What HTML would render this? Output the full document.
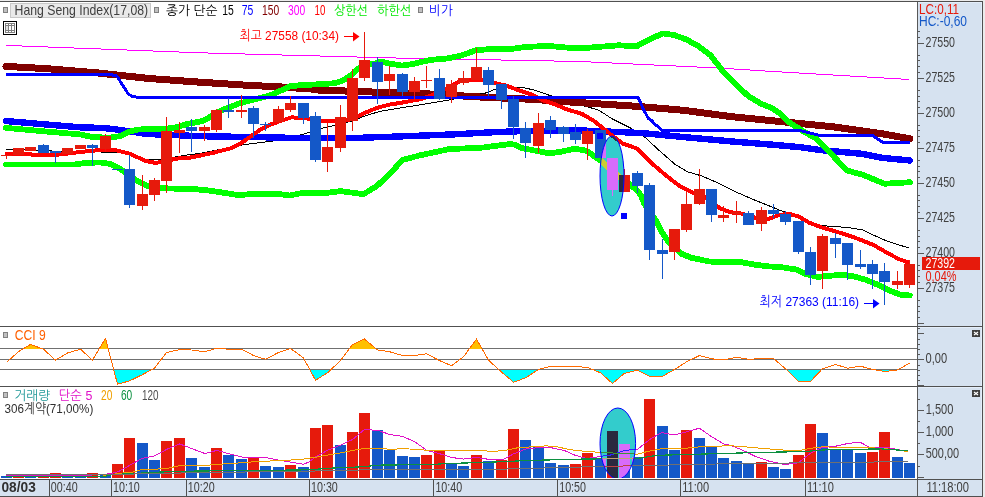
<!DOCTYPE html>
<html lang="ko"><head><meta charset="utf-8"><title>Hang Seng Index Chart</title>
<style>html,body{margin:0;padding:0;background:#fff;overflow:hidden}body{width:985px;height:497px}</style></head>
<body>
<svg width="985" height="497" viewBox="0 0 985 497" style="display:block;will-change:transform">
<defs>
<clipPath id="cm"><rect x="0" y="2" width="917" height="324"/></clipPath>
<clipPath id="cv"><rect x="0" y="387" width="917" height="91"/></clipPath>
<clipPath id="e1"><ellipse cx="612" cy="176" rx="12" ry="40"/></clipPath>
<clipPath id="e2"><ellipse cx="617.8" cy="443.5" rx="17.8" ry="35.5"/></clipPath>
</defs>
<rect width="985" height="497" fill="#fff"/>
<rect x="918" y="2" width="64" height="495" fill="#D6E2F0"/>
<rect x="0" y="480" width="982" height="16" fill="#D6E2F0"/>
<rect x="981" y="2" width="1" height="477" fill="#E4EEFA"/>
<rect x="918" y="2" width="64" height="1" fill="#E4EEFA"/>
<rect x="918" y="327" width="64" height="1" fill="#E4EEFA"/>
<rect x="918" y="387" width="64" height="1" fill="#E4EEFA"/>
<rect x="0" y="0" width="985" height="1" fill="#ececec"/>
<rect x="0" y="1" width="983" height="1" fill="#505050"/>
<rect x="982" y="1" width="1" height="496" fill="#505050"/>
<rect x="983" y="0" width="2" height="497" fill="#ececec"/>
<rect x="917" y="2" width="1" height="494" fill="#585858"/>
<rect x="0" y="326" width="982" height="1" fill="#505050"/>
<rect x="0" y="386" width="982" height="1" fill="#505050"/>
<rect x="0" y="479" width="982" height="1" fill="#505050"/>
<rect x="0" y="496" width="983" height="1" fill="#505050"/>
<g clip-path="url(#cm)">
<g shape-rendering="crispEdges">
<polyline points="6.0,149.3 30.0,149.6 60.0,151.5 100.0,152.0 125.0,152.3 145.0,159.3 160.0,159.5 175.0,157.0 190.0,154.5 200.0,153.5 220.0,149.5 242.8,144.8 274.3,140.9 301.7,134.6 309.8,132.2 322.0,128.2 334.2,125.5 352.0,121.0 365.0,116.0 380.0,111.3 420.6,104.7 449.0,100.0 485.6,93.0 495.7,89.0 512.0,86.9 522.1,87.5 534.3,90.0 548.5,95.0 585.2,106.2 598.4,110.0 612.6,119.1 631.0,128.3 645.1,137.4 659.3,150.6 675.6,164.8 687.8,171.9 702.0,176.0 718.2,183.1 736.5,192.2 752.7,199.3 770.8,206.5 783.0,211.5 800.0,217.3 815.0,224.8 829.6,226.3 845.9,227.3 862.0,229.7 874.3,235.5 886.5,240.9 898.7,244.8 908.8,248.0" fill="none" stroke="#000000" stroke-width="1" stroke-linejoin="round"/>
<polyline points="6.0,121.0 50.0,124.8 80.0,127.3 104.0,128.0 116.5,129.5 131.0,131.6 148.0,134.1 165.0,134.6 177.0,135.2 200.0,136.2 250.0,137.0 300.0,138.0 345.0,138.3 368.7,137.5 390.0,136.8 451.0,134.5 491.7,132.3 522.0,131.1 580.0,130.4 641.0,133.0 691.8,137.8 732.4,141.5 770.0,144.5 801.2,147.3 821.5,150.2 862.0,153.8 882.4,157.9 909.8,160.5" fill="none" stroke="#0000FF" stroke-width="6.4" stroke-linejoin="round" stroke-linecap="round"/>
<polyline points="6.0,66.4 48.7,68.8 97.5,72.9 150.0,78.6 198.7,82.1 247.5,85.3 280.0,86.9 310.0,88.9 318.7,90.1 348.0,91.1 367.5,91.9 400.0,92.7 430.0,94.0 485.0,97.3 533.7,99.4 570.0,102.0 635.0,106.2 683.7,110.3 730.0,116.5 785.0,122.0 833.7,126.9 880.0,133.4 909.8,138.8" fill="none" stroke="#800000" stroke-width="7" stroke-linejoin="round" stroke-linecap="round"/>
<polyline points="6.0,45.4 200.0,52.8 390.0,57.9 580.0,61.5 720.0,68.1 770.0,71.3 909.0,79.5" fill="none" stroke="#FF00FF" stroke-width="1" stroke-linejoin="round"/>
<polyline points="5.0,153.9 30.0,153.9 32.0,155.0 60.0,154.5 80.0,152.0 100.0,150.0 115.0,150.0 130.0,153.7 145.0,160.8 155.0,162.8 165.0,161.8 175.0,158.7 190.0,157.6 210.3,153.5 230.6,148.4 240.8,143.4 251.0,136.2 261.0,129.1 271.2,124.3 281.4,120.7 291.5,117.4 303.7,118.0 315.9,120.0 328.0,121.5 340.3,121.0 352.4,119.0 364.6,113.0 376.8,107.9 390.0,104.5 400.0,103.0 420.6,99.1 432.8,95.0 447.0,88.0 455.0,83.9 461.2,80.8 471.4,79.8 481.5,80.2 493.7,82.9 505.9,85.5 518.0,90.0 530.3,94.0 542.4,100.1 554.6,104.2 566.8,109.3 582.2,114.0 594.4,121.2 610.6,134.4 622.8,143.5 637.0,148.6 651.2,162.8 665.4,175.0 679.6,186.1 691.8,192.2 702.0,195.3 720.3,208.5 730.4,212.3 740.3,213.3 754.5,217.5 767.7,219.2 778.9,215.1 789.0,213.7 799.2,216.8 809.3,222.8 821.5,227.3 835.7,231.4 850.0,236.0 862.0,240.3 874.3,245.4 886.5,252.5 898.7,259.0 909.8,263.0" fill="none" stroke="#FF0000" stroke-width="4" stroke-linejoin="round"/>
<polyline points="6.0,127.9 40.0,131.0 80.0,134.4 93.0,137.2 110.0,137.6 120.0,136.2 128.7,131.9 138.5,129.5 153.0,128.9 165.0,128.9 177.4,127.0 187.0,124.0 200.0,121.6 205.0,120.0 215.0,114.0 225.0,108.9 240.0,103.2 255.0,99.3 270.0,95.4 280.0,91.0 289.5,86.4 300.0,85.2 320.0,84.2 335.0,83.2 343.0,80.6 348.0,77.3 352.0,74.5 358.0,69.0 363.0,65.2 375.0,63.6 380.0,61.5 390.0,63.6 402.3,65.6 412.5,64.0 430.8,59.9 447.0,58.5 461.2,55.5 475.4,50.4 485.6,49.4 512.0,48.8 526.2,46.9 548.5,45.9 562.7,47.3 580.0,48.4 618.7,45.3 637.0,46.3 640.0,44.1 652.0,38.1 663.1,33.5 674.2,35.1 686.3,39.5 698.4,46.1 710.4,55.2 717.5,64.2 724.5,73.3 736.6,85.4 748.7,96.4 760.7,103.5 772.8,108.5 780.0,113.5 787.0,120.9 801.2,130.0 815.4,138.2 829.6,152.2 846.9,170.5 862.0,174.5 884.5,183.7 898.7,183.0 909.8,182.2" fill="none" stroke="#00FF00" stroke-width="5.8" stroke-linejoin="round" stroke-linecap="round"/>
<polyline points="6.0,164.6 75.0,164.5 85.0,163.0 100.0,162.4 110.0,163.8 120.0,168.5 130.0,176.0 137.4,181.0 147.0,185.9 165.0,188.3 197.5,189.4 210.3,190.7 238.7,195.1 250.9,194.1 279.3,194.1 289.5,195.5 301.7,193.1 328.0,192.7 340.3,191.1 352.4,192.7 363.6,194.1 376.8,186.0 390.0,173.8 402.3,159.9 420.6,155.2 449.0,149.1 481.5,147.7 510.0,144.0 515.0,144.7 522.0,148.1 536.3,150.8 548.5,153.2 558.7,152.2 575.0,148.7 586.2,150.6 596.4,157.7 602.5,161.8 607.6,166.9 618.7,176.0 637.0,190.2 641.0,195.3 644.0,203.4 655.3,219.4 661.4,231.5 667.5,240.7 681.7,253.9 691.8,257.9 710.0,261.6 742.6,262.4 756.8,265.0 770.0,266.5 781.0,267.1 797.2,269.7 805.3,273.8 817.5,276.9 829.6,275.8 841.8,274.8 854.0,276.4 866.2,279.9 878.4,285.0 890.6,291.0 900.7,294.7 909.8,295.5" fill="none" stroke="#00FF00" stroke-width="5.8" stroke-linejoin="round" stroke-linecap="round"/>
<polyline points="6.0,74.4 109.6,74.4 116.8,76.0 128.0,93.5 132.0,96.5 140.0,97.5 638.0,97.5 643.0,108.2 648.2,118.4 651.2,120.2 655.3,124.5 662.4,130.4 800.0,130.5 820.5,135.7 873.0,135.7 883.5,142.8 909.8,142.8" fill="none" stroke="#0000FF" stroke-width="3" stroke-linejoin="round"/>
</g>
<g shape-rendering="crispEdges">
<rect x="6" y="155" width="1" height="4" fill="#E61A0C"/>
<rect x="1" y="155" width="11" height="1" fill="#E61A0C"/>
<rect x="18" y="148" width="1" height="7" fill="#E61A0C"/>
<rect x="13" y="148" width="11" height="7" fill="#E61A0C"/>
<rect x="30" y="147" width="1" height="4" fill="#E61A0C"/>
<rect x="25" y="147" width="11" height="4" fill="#E61A0C"/>
<rect x="43" y="144" width="1" height="9" fill="#1458C8"/>
<rect x="38" y="145" width="11" height="8" fill="#1458C8"/>
<rect x="55" y="151" width="1" height="12" fill="#1458C8"/>
<rect x="50" y="151" width="11" height="2" fill="#1458C8"/>
<rect x="67" y="148" width="1" height="6" fill="#E61A0C"/>
<rect x="62" y="148" width="11" height="6" fill="#E61A0C"/>
<rect x="80" y="145" width="1" height="4" fill="#E61A0C"/>
<rect x="75" y="145" width="11" height="4" fill="#E61A0C"/>
<rect x="92" y="144" width="1" height="22" fill="#1458C8"/>
<rect x="87" y="145" width="11" height="3" fill="#1458C8"/>
<rect x="105" y="134" width="1" height="18" fill="#E61A0C"/>
<rect x="100" y="136" width="11" height="13" fill="#E61A0C"/>
<rect x="117" y="169" width="1" height="1" fill="#1458C8"/>
<rect x="112" y="169" width="11" height="1" fill="#1458C8"/>
<rect x="129" y="155" width="1" height="53" fill="#1458C8"/>
<rect x="124" y="169" width="11" height="36" fill="#1458C8"/>
<rect x="142" y="175" width="1" height="35" fill="#E61A0C"/>
<rect x="137" y="194" width="11" height="12" fill="#E61A0C"/>
<rect x="154" y="178" width="1" height="23" fill="#E61A0C"/>
<rect x="149" y="180" width="11" height="15" fill="#E61A0C"/>
<rect x="166" y="117" width="1" height="76" fill="#E61A0C"/>
<rect x="161" y="131" width="11" height="50" fill="#E61A0C"/>
<rect x="179" y="122" width="1" height="31" fill="#E61A0C"/>
<rect x="174" y="130" width="11" height="3" fill="#E61A0C"/>
<rect x="191" y="119" width="1" height="33" fill="#1458C8"/>
<rect x="186" y="127" width="11" height="4" fill="#1458C8"/>
<rect x="204" y="125" width="1" height="16" fill="#E61A0C"/>
<rect x="199" y="127" width="11" height="4" fill="#E61A0C"/>
<rect x="216" y="109" width="1" height="23" fill="#E61A0C"/>
<rect x="211" y="110" width="11" height="20" fill="#E61A0C"/>
<rect x="228" y="98" width="1" height="20" fill="#1458C8"/>
<rect x="223" y="110" width="11" height="2" fill="#1458C8"/>
<rect x="241" y="95" width="1" height="23" fill="#E61A0C"/>
<rect x="236" y="110" width="11" height="2" fill="#E61A0C"/>
<rect x="253" y="106" width="1" height="32" fill="#1458C8"/>
<rect x="248" y="108" width="11" height="16" fill="#1458C8"/>
<rect x="265" y="122" width="1" height="9" fill="#1458C8"/>
<rect x="260" y="124" width="11" height="1" fill="#1458C8"/>
<rect x="278" y="106" width="1" height="18" fill="#E61A0C"/>
<rect x="273" y="109" width="11" height="13" fill="#E61A0C"/>
<rect x="290" y="96" width="1" height="16" fill="#E61A0C"/>
<rect x="285" y="103" width="11" height="7" fill="#E61A0C"/>
<rect x="303" y="103" width="1" height="21" fill="#1458C8"/>
<rect x="298" y="103" width="11" height="15" fill="#1458C8"/>
<rect x="315" y="112" width="1" height="50" fill="#1458C8"/>
<rect x="310" y="116" width="11" height="44" fill="#1458C8"/>
<rect x="327" y="123" width="1" height="49" fill="#E61A0C"/>
<rect x="322" y="147" width="11" height="15" fill="#E61A0C"/>
<rect x="340" y="105" width="1" height="47" fill="#E61A0C"/>
<rect x="335" y="117" width="11" height="31" fill="#E61A0C"/>
<rect x="352" y="69" width="1" height="62" fill="#E61A0C"/>
<rect x="347" y="78" width="11" height="43" fill="#E61A0C"/>
<rect x="364" y="32" width="1" height="49" fill="#E61A0C"/>
<rect x="359" y="60" width="11" height="18" fill="#E61A0C"/>
<rect x="377" y="57" width="1" height="47" fill="#1458C8"/>
<rect x="372" y="62" width="11" height="20" fill="#1458C8"/>
<rect x="389" y="66" width="1" height="29" fill="#E61A0C"/>
<rect x="384" y="74" width="11" height="7" fill="#E61A0C"/>
<rect x="402" y="73" width="1" height="23" fill="#1458C8"/>
<rect x="397" y="74" width="11" height="18" fill="#1458C8"/>
<rect x="414" y="77" width="1" height="23" fill="#E61A0C"/>
<rect x="409" y="81" width="11" height="11" fill="#E61A0C"/>
<rect x="426" y="66" width="1" height="22" fill="#E61A0C"/>
<rect x="421" y="80" width="11" height="1" fill="#E61A0C"/>
<rect x="439" y="69" width="1" height="31" fill="#1458C8"/>
<rect x="434" y="78" width="11" height="21" fill="#1458C8"/>
<rect x="451" y="80" width="1" height="23" fill="#E61A0C"/>
<rect x="446" y="84" width="11" height="13" fill="#E61A0C"/>
<rect x="463" y="71" width="1" height="14" fill="#E61A0C"/>
<rect x="458" y="78" width="11" height="5" fill="#E61A0C"/>
<rect x="476" y="48" width="1" height="32" fill="#E61A0C"/>
<rect x="471" y="67" width="11" height="13" fill="#E61A0C"/>
<rect x="488" y="67" width="1" height="29" fill="#1458C8"/>
<rect x="483" y="70" width="11" height="15" fill="#1458C8"/>
<rect x="501" y="84" width="1" height="25" fill="#1458C8"/>
<rect x="496" y="84" width="11" height="16" fill="#1458C8"/>
<rect x="513" y="96" width="1" height="43" fill="#1458C8"/>
<rect x="508" y="99" width="11" height="28" fill="#1458C8"/>
<rect x="525" y="122" width="1" height="36" fill="#1458C8"/>
<rect x="520" y="128" width="11" height="15" fill="#1458C8"/>
<rect x="538" y="113" width="1" height="40" fill="#E61A0C"/>
<rect x="533" y="123" width="11" height="23" fill="#E61A0C"/>
<rect x="550" y="116" width="1" height="22" fill="#1458C8"/>
<rect x="545" y="120" width="11" height="10" fill="#1458C8"/>
<rect x="563" y="126" width="1" height="16" fill="#1458C8"/>
<rect x="558" y="127" width="11" height="7" fill="#1458C8"/>
<rect x="575" y="124" width="1" height="20" fill="#1458C8"/>
<rect x="570" y="132" width="11" height="8" fill="#1458C8"/>
<rect x="587" y="129" width="1" height="31" fill="#E61A0C"/>
<rect x="582" y="131" width="11" height="13" fill="#E61A0C"/>
<rect x="600" y="130" width="1" height="28" fill="#1458C8"/>
<rect x="595" y="130" width="11" height="28" fill="#1458C8"/>
<rect x="612" y="158" width="1" height="38" fill="#1458C8"/>
<rect x="607" y="158" width="11" height="32" fill="#1458C8"/>
<rect x="624" y="169" width="1" height="23" fill="#E61A0C"/>
<rect x="619" y="175" width="11" height="17" fill="#E61A0C"/>
<rect x="637" y="171" width="1" height="22" fill="#1458C8"/>
<rect x="632" y="173" width="11" height="13" fill="#1458C8"/>
<rect x="649" y="183" width="1" height="77" fill="#1458C8"/>
<rect x="644" y="185" width="11" height="65" fill="#1458C8"/>
<rect x="662" y="239" width="1" height="40" fill="#1458C8"/>
<rect x="657" y="250" width="11" height="4" fill="#1458C8"/>
<rect x="674" y="229" width="1" height="31" fill="#E61A0C"/>
<rect x="669" y="229" width="11" height="23" fill="#E61A0C"/>
<rect x="686" y="192" width="1" height="40" fill="#E61A0C"/>
<rect x="681" y="204" width="11" height="26" fill="#E61A0C"/>
<rect x="699" y="169" width="1" height="36" fill="#E61A0C"/>
<rect x="694" y="189" width="11" height="15" fill="#E61A0C"/>
<rect x="711" y="189" width="1" height="33" fill="#1458C8"/>
<rect x="706" y="189" width="11" height="26" fill="#1458C8"/>
<rect x="723" y="206" width="1" height="16" fill="#E61A0C"/>
<rect x="718" y="215" width="11" height="3" fill="#E61A0C"/>
<rect x="736" y="201" width="1" height="22" fill="#E61A0C"/>
<rect x="731" y="212" width="11" height="2" fill="#E61A0C"/>
<rect x="748" y="211" width="1" height="14" fill="#1458C8"/>
<rect x="743" y="213" width="11" height="12" fill="#1458C8"/>
<rect x="761" y="207" width="1" height="24" fill="#E61A0C"/>
<rect x="756" y="210" width="11" height="14" fill="#E61A0C"/>
<rect x="773" y="204" width="1" height="14" fill="#1458C8"/>
<rect x="768" y="210" width="11" height="4" fill="#1458C8"/>
<rect x="785" y="211" width="1" height="14" fill="#1458C8"/>
<rect x="780" y="214" width="11" height="8" fill="#1458C8"/>
<rect x="798" y="221" width="1" height="33" fill="#1458C8"/>
<rect x="793" y="221" width="11" height="31" fill="#1458C8"/>
<rect x="810" y="247" width="1" height="38" fill="#1458C8"/>
<rect x="805" y="252" width="11" height="23" fill="#1458C8"/>
<rect x="822" y="234" width="1" height="55" fill="#E61A0C"/>
<rect x="817" y="236" width="11" height="35" fill="#E61A0C"/>
<rect x="835" y="233" width="1" height="25" fill="#1458C8"/>
<rect x="830" y="238" width="11" height="6" fill="#1458C8"/>
<rect x="847" y="243" width="1" height="37" fill="#1458C8"/>
<rect x="842" y="243" width="11" height="22" fill="#1458C8"/>
<rect x="860" y="250" width="1" height="19" fill="#1458C8"/>
<rect x="855" y="264" width="11" height="3" fill="#1458C8"/>
<rect x="872" y="260" width="1" height="29" fill="#1458C8"/>
<rect x="867" y="264" width="11" height="10" fill="#1458C8"/>
<rect x="884" y="263" width="1" height="42" fill="#1458C8"/>
<rect x="879" y="271" width="11" height="11" fill="#1458C8"/>
<rect x="897" y="271" width="1" height="18" fill="#E61A0C"/>
<rect x="892" y="281" width="11" height="4" fill="#E61A0C"/>
<rect x="909" y="260" width="1" height="28" fill="#E61A0C"/>
<rect x="904" y="264" width="11" height="21" fill="#E61A0C"/>
</g>
<ellipse cx="612" cy="176" rx="12" ry="40" fill="#33CCCC"/>
<g clip-path="url(#e1)">
<g shape-rendering="crispEdges">
<polyline points="6.0,149.3 30.0,149.6 60.0,151.5 100.0,152.0 125.0,152.3 145.0,159.3 160.0,159.5 175.0,157.0 190.0,154.5 200.0,153.5 220.0,149.5 242.8,144.8 274.3,140.9 301.7,134.6 309.8,132.2 322.0,128.2 334.2,125.5 352.0,121.0 365.0,116.0 380.0,111.3 420.6,104.7 449.0,100.0 485.6,93.0 495.7,89.0 512.0,86.9 522.1,87.5 534.3,90.0 548.5,95.0 585.2,106.2 598.4,110.0 612.6,119.1 631.0,128.3 645.1,137.4 659.3,150.6 675.6,164.8 687.8,171.9 702.0,176.0 718.2,183.1 736.5,192.2 752.7,199.3 770.8,206.5 783.0,211.5 800.0,217.3 815.0,224.8 829.6,226.3 845.9,227.3 862.0,229.7 874.3,235.5 886.5,240.9 898.7,244.8 908.8,248.0" fill="none" stroke="#CC3333" stroke-width="1" stroke-linejoin="round"/>
<polyline points="6.0,121.0 50.0,124.8 80.0,127.3 104.0,128.0 116.5,129.5 131.0,131.6 148.0,134.1 165.0,134.6 177.0,135.2 200.0,136.2 250.0,137.0 300.0,138.0 345.0,138.3 368.7,137.5 390.0,136.8 451.0,134.5 491.7,132.3 522.0,131.1 580.0,130.4 641.0,133.0 691.8,137.8 732.4,141.5 770.0,144.5 801.2,147.3 821.5,150.2 862.0,153.8 882.4,157.9 909.8,160.5" fill="none" stroke="#CC33CC" stroke-width="6.4" stroke-linejoin="round" stroke-linecap="round"/>
<polyline points="6.0,66.4 48.7,68.8 97.5,72.9 150.0,78.6 198.7,82.1 247.5,85.3 280.0,86.9 310.0,88.9 318.7,90.1 348.0,91.1 367.5,91.9 400.0,92.7 430.0,94.0 485.0,97.3 533.7,99.4 570.0,102.0 635.0,106.2 683.7,110.3 730.0,116.5 785.0,122.0 833.7,126.9 880.0,133.4 909.8,138.8" fill="none" stroke="#4C3333" stroke-width="7" stroke-linejoin="round" stroke-linecap="round"/>
<polyline points="6.0,45.4 200.0,52.8 390.0,57.9 580.0,61.5 720.0,68.1 770.0,71.3 909.0,79.5" fill="none" stroke="#3333CC" stroke-width="1" stroke-linejoin="round"/>
<polyline points="5.0,153.9 30.0,153.9 32.0,155.0 60.0,154.5 80.0,152.0 100.0,150.0 115.0,150.0 130.0,153.7 145.0,160.8 155.0,162.8 165.0,161.8 175.0,158.7 190.0,157.6 210.3,153.5 230.6,148.4 240.8,143.4 251.0,136.2 261.0,129.1 271.2,124.3 281.4,120.7 291.5,117.4 303.7,118.0 315.9,120.0 328.0,121.5 340.3,121.0 352.4,119.0 364.6,113.0 376.8,107.9 390.0,104.5 400.0,103.0 420.6,99.1 432.8,95.0 447.0,88.0 455.0,83.9 461.2,80.8 471.4,79.8 481.5,80.2 493.7,82.9 505.9,85.5 518.0,90.0 530.3,94.0 542.4,100.1 554.6,104.2 566.8,109.3 582.2,114.0 594.4,121.2 610.6,134.4 622.8,143.5 637.0,148.6 651.2,162.8 665.4,175.0 679.6,186.1 691.8,192.2 702.0,195.3 720.3,208.5 730.4,212.3 740.3,213.3 754.5,217.5 767.7,219.2 778.9,215.1 789.0,213.7 799.2,216.8 809.3,222.8 821.5,227.3 835.7,231.4 850.0,236.0 862.0,240.3 874.3,245.4 886.5,252.5 898.7,259.0 909.8,263.0" fill="none" stroke="#333333" stroke-width="4" stroke-linejoin="round"/>
<polyline points="6.0,127.9 40.0,131.0 80.0,134.4 93.0,137.2 110.0,137.6 120.0,136.2 128.7,131.9 138.5,129.5 153.0,128.9 165.0,128.9 177.4,127.0 187.0,124.0 200.0,121.6 205.0,120.0 215.0,114.0 225.0,108.9 240.0,103.2 255.0,99.3 270.0,95.4 280.0,91.0 289.5,86.4 300.0,85.2 320.0,84.2 335.0,83.2 343.0,80.6 348.0,77.3 352.0,74.5 358.0,69.0 363.0,65.2 375.0,63.6 380.0,61.5 390.0,63.6 402.3,65.6 412.5,64.0 430.8,59.9 447.0,58.5 461.2,55.5 475.4,50.4 485.6,49.4 512.0,48.8 526.2,46.9 548.5,45.9 562.7,47.3 580.0,48.4 618.7,45.3 637.0,46.3 640.0,44.1 652.0,38.1 663.1,33.5 674.2,35.1 686.3,39.5 698.4,46.1 710.4,55.2 717.5,64.2 724.5,73.3 736.6,85.4 748.7,96.4 760.7,103.5 772.8,108.5 780.0,113.5 787.0,120.9 801.2,130.0 815.4,138.2 829.6,152.2 846.9,170.5 862.0,174.5 884.5,183.7 898.7,183.0 909.8,182.2" fill="none" stroke="#CCCC33" stroke-width="5.8" stroke-linejoin="round" stroke-linecap="round"/>
<polyline points="6.0,164.6 75.0,164.5 85.0,163.0 100.0,162.4 110.0,163.8 120.0,168.5 130.0,176.0 137.4,181.0 147.0,185.9 165.0,188.3 197.5,189.4 210.3,190.7 238.7,195.1 250.9,194.1 279.3,194.1 289.5,195.5 301.7,193.1 328.0,192.7 340.3,191.1 352.4,192.7 363.6,194.1 376.8,186.0 390.0,173.8 402.3,159.9 420.6,155.2 449.0,149.1 481.5,147.7 510.0,144.0 515.0,144.7 522.0,148.1 536.3,150.8 548.5,153.2 558.7,152.2 575.0,148.7 586.2,150.6 596.4,157.7 602.5,161.8 607.6,166.9 618.7,176.0 637.0,190.2 641.0,195.3 644.0,203.4 655.3,219.4 661.4,231.5 667.5,240.7 681.7,253.9 691.8,257.9 710.0,261.6 742.6,262.4 756.8,265.0 770.0,266.5 781.0,267.1 797.2,269.7 805.3,273.8 817.5,276.9 829.6,275.8 841.8,274.8 854.0,276.4 866.2,279.9 878.4,285.0 890.6,291.0 900.7,294.7 909.8,295.5" fill="none" stroke="#CCCC33" stroke-width="5.8" stroke-linejoin="round" stroke-linecap="round"/>
<polyline points="6.0,74.4 109.6,74.4 116.8,76.0 128.0,93.5 132.0,96.5 140.0,97.5 638.0,97.5 643.0,108.2 648.2,118.4 651.2,120.2 655.3,124.5 662.4,130.4 800.0,130.5 820.5,135.7 873.0,135.7 883.5,142.8 909.8,142.8" fill="none" stroke="#CC33CC" stroke-width="3" stroke-linejoin="round"/>
</g>
<g shape-rendering="crispEdges">
<rect x="6" y="155" width="1" height="4" fill="#2A293F"/>
<rect x="1" y="155" width="11" height="1" fill="#2A293F"/>
<rect x="18" y="148" width="1" height="7" fill="#2A293F"/>
<rect x="13" y="148" width="11" height="7" fill="#2A293F"/>
<rect x="30" y="147" width="1" height="4" fill="#2A293F"/>
<rect x="25" y="147" width="11" height="4" fill="#2A293F"/>
<rect x="43" y="144" width="1" height="9" fill="#D86BFB"/>
<rect x="38" y="145" width="11" height="8" fill="#D86BFB"/>
<rect x="55" y="151" width="1" height="12" fill="#D86BFB"/>
<rect x="50" y="151" width="11" height="2" fill="#D86BFB"/>
<rect x="67" y="148" width="1" height="6" fill="#2A293F"/>
<rect x="62" y="148" width="11" height="6" fill="#2A293F"/>
<rect x="80" y="145" width="1" height="4" fill="#2A293F"/>
<rect x="75" y="145" width="11" height="4" fill="#2A293F"/>
<rect x="92" y="144" width="1" height="22" fill="#D86BFB"/>
<rect x="87" y="145" width="11" height="3" fill="#D86BFB"/>
<rect x="105" y="134" width="1" height="18" fill="#2A293F"/>
<rect x="100" y="136" width="11" height="13" fill="#2A293F"/>
<rect x="117" y="169" width="1" height="1" fill="#D86BFB"/>
<rect x="112" y="169" width="11" height="1" fill="#D86BFB"/>
<rect x="129" y="155" width="1" height="53" fill="#D86BFB"/>
<rect x="124" y="169" width="11" height="36" fill="#D86BFB"/>
<rect x="142" y="175" width="1" height="35" fill="#2A293F"/>
<rect x="137" y="194" width="11" height="12" fill="#2A293F"/>
<rect x="154" y="178" width="1" height="23" fill="#2A293F"/>
<rect x="149" y="180" width="11" height="15" fill="#2A293F"/>
<rect x="166" y="117" width="1" height="76" fill="#2A293F"/>
<rect x="161" y="131" width="11" height="50" fill="#2A293F"/>
<rect x="179" y="122" width="1" height="31" fill="#2A293F"/>
<rect x="174" y="130" width="11" height="3" fill="#2A293F"/>
<rect x="191" y="119" width="1" height="33" fill="#D86BFB"/>
<rect x="186" y="127" width="11" height="4" fill="#D86BFB"/>
<rect x="204" y="125" width="1" height="16" fill="#2A293F"/>
<rect x="199" y="127" width="11" height="4" fill="#2A293F"/>
<rect x="216" y="109" width="1" height="23" fill="#2A293F"/>
<rect x="211" y="110" width="11" height="20" fill="#2A293F"/>
<rect x="228" y="98" width="1" height="20" fill="#D86BFB"/>
<rect x="223" y="110" width="11" height="2" fill="#D86BFB"/>
<rect x="241" y="95" width="1" height="23" fill="#2A293F"/>
<rect x="236" y="110" width="11" height="2" fill="#2A293F"/>
<rect x="253" y="106" width="1" height="32" fill="#D86BFB"/>
<rect x="248" y="108" width="11" height="16" fill="#D86BFB"/>
<rect x="265" y="122" width="1" height="9" fill="#D86BFB"/>
<rect x="260" y="124" width="11" height="1" fill="#D86BFB"/>
<rect x="278" y="106" width="1" height="18" fill="#2A293F"/>
<rect x="273" y="109" width="11" height="13" fill="#2A293F"/>
<rect x="290" y="96" width="1" height="16" fill="#2A293F"/>
<rect x="285" y="103" width="11" height="7" fill="#2A293F"/>
<rect x="303" y="103" width="1" height="21" fill="#D86BFB"/>
<rect x="298" y="103" width="11" height="15" fill="#D86BFB"/>
<rect x="315" y="112" width="1" height="50" fill="#D86BFB"/>
<rect x="310" y="116" width="11" height="44" fill="#D86BFB"/>
<rect x="327" y="123" width="1" height="49" fill="#2A293F"/>
<rect x="322" y="147" width="11" height="15" fill="#2A293F"/>
<rect x="340" y="105" width="1" height="47" fill="#2A293F"/>
<rect x="335" y="117" width="11" height="31" fill="#2A293F"/>
<rect x="352" y="69" width="1" height="62" fill="#2A293F"/>
<rect x="347" y="78" width="11" height="43" fill="#2A293F"/>
<rect x="364" y="32" width="1" height="49" fill="#2A293F"/>
<rect x="359" y="60" width="11" height="18" fill="#2A293F"/>
<rect x="377" y="57" width="1" height="47" fill="#D86BFB"/>
<rect x="372" y="62" width="11" height="20" fill="#D86BFB"/>
<rect x="389" y="66" width="1" height="29" fill="#2A293F"/>
<rect x="384" y="74" width="11" height="7" fill="#2A293F"/>
<rect x="402" y="73" width="1" height="23" fill="#D86BFB"/>
<rect x="397" y="74" width="11" height="18" fill="#D86BFB"/>
<rect x="414" y="77" width="1" height="23" fill="#2A293F"/>
<rect x="409" y="81" width="11" height="11" fill="#2A293F"/>
<rect x="426" y="66" width="1" height="22" fill="#2A293F"/>
<rect x="421" y="80" width="11" height="1" fill="#2A293F"/>
<rect x="439" y="69" width="1" height="31" fill="#D86BFB"/>
<rect x="434" y="78" width="11" height="21" fill="#D86BFB"/>
<rect x="451" y="80" width="1" height="23" fill="#2A293F"/>
<rect x="446" y="84" width="11" height="13" fill="#2A293F"/>
<rect x="463" y="71" width="1" height="14" fill="#2A293F"/>
<rect x="458" y="78" width="11" height="5" fill="#2A293F"/>
<rect x="476" y="48" width="1" height="32" fill="#2A293F"/>
<rect x="471" y="67" width="11" height="13" fill="#2A293F"/>
<rect x="488" y="67" width="1" height="29" fill="#D86BFB"/>
<rect x="483" y="70" width="11" height="15" fill="#D86BFB"/>
<rect x="501" y="84" width="1" height="25" fill="#D86BFB"/>
<rect x="496" y="84" width="11" height="16" fill="#D86BFB"/>
<rect x="513" y="96" width="1" height="43" fill="#D86BFB"/>
<rect x="508" y="99" width="11" height="28" fill="#D86BFB"/>
<rect x="525" y="122" width="1" height="36" fill="#D86BFB"/>
<rect x="520" y="128" width="11" height="15" fill="#D86BFB"/>
<rect x="538" y="113" width="1" height="40" fill="#2A293F"/>
<rect x="533" y="123" width="11" height="23" fill="#2A293F"/>
<rect x="550" y="116" width="1" height="22" fill="#D86BFB"/>
<rect x="545" y="120" width="11" height="10" fill="#D86BFB"/>
<rect x="563" y="126" width="1" height="16" fill="#D86BFB"/>
<rect x="558" y="127" width="11" height="7" fill="#D86BFB"/>
<rect x="575" y="124" width="1" height="20" fill="#D86BFB"/>
<rect x="570" y="132" width="11" height="8" fill="#D86BFB"/>
<rect x="587" y="129" width="1" height="31" fill="#2A293F"/>
<rect x="582" y="131" width="11" height="13" fill="#2A293F"/>
<rect x="600" y="130" width="1" height="28" fill="#D86BFB"/>
<rect x="595" y="130" width="11" height="28" fill="#D86BFB"/>
<rect x="612" y="158" width="1" height="38" fill="#D86BFB"/>
<rect x="607" y="158" width="11" height="32" fill="#D86BFB"/>
<rect x="624" y="169" width="1" height="23" fill="#2A293F"/>
<rect x="619" y="175" width="11" height="17" fill="#2A293F"/>
<rect x="637" y="171" width="1" height="22" fill="#D86BFB"/>
<rect x="632" y="173" width="11" height="13" fill="#D86BFB"/>
<rect x="649" y="183" width="1" height="77" fill="#D86BFB"/>
<rect x="644" y="185" width="11" height="65" fill="#D86BFB"/>
<rect x="662" y="239" width="1" height="40" fill="#D86BFB"/>
<rect x="657" y="250" width="11" height="4" fill="#D86BFB"/>
<rect x="674" y="229" width="1" height="31" fill="#2A293F"/>
<rect x="669" y="229" width="11" height="23" fill="#2A293F"/>
<rect x="686" y="192" width="1" height="40" fill="#2A293F"/>
<rect x="681" y="204" width="11" height="26" fill="#2A293F"/>
<rect x="699" y="169" width="1" height="36" fill="#2A293F"/>
<rect x="694" y="189" width="11" height="15" fill="#2A293F"/>
<rect x="711" y="189" width="1" height="33" fill="#D86BFB"/>
<rect x="706" y="189" width="11" height="26" fill="#D86BFB"/>
<rect x="723" y="206" width="1" height="16" fill="#2A293F"/>
<rect x="718" y="215" width="11" height="3" fill="#2A293F"/>
<rect x="736" y="201" width="1" height="22" fill="#2A293F"/>
<rect x="731" y="212" width="11" height="2" fill="#2A293F"/>
<rect x="748" y="211" width="1" height="14" fill="#D86BFB"/>
<rect x="743" y="213" width="11" height="12" fill="#D86BFB"/>
<rect x="761" y="207" width="1" height="24" fill="#2A293F"/>
<rect x="756" y="210" width="11" height="14" fill="#2A293F"/>
<rect x="773" y="204" width="1" height="14" fill="#D86BFB"/>
<rect x="768" y="210" width="11" height="4" fill="#D86BFB"/>
<rect x="785" y="211" width="1" height="14" fill="#D86BFB"/>
<rect x="780" y="214" width="11" height="8" fill="#D86BFB"/>
<rect x="798" y="221" width="1" height="33" fill="#D86BFB"/>
<rect x="793" y="221" width="11" height="31" fill="#D86BFB"/>
<rect x="810" y="247" width="1" height="38" fill="#D86BFB"/>
<rect x="805" y="252" width="11" height="23" fill="#D86BFB"/>
<rect x="822" y="234" width="1" height="55" fill="#2A293F"/>
<rect x="817" y="236" width="11" height="35" fill="#2A293F"/>
<rect x="835" y="233" width="1" height="25" fill="#D86BFB"/>
<rect x="830" y="238" width="11" height="6" fill="#D86BFB"/>
<rect x="847" y="243" width="1" height="37" fill="#D86BFB"/>
<rect x="842" y="243" width="11" height="22" fill="#D86BFB"/>
<rect x="860" y="250" width="1" height="19" fill="#D86BFB"/>
<rect x="855" y="264" width="11" height="3" fill="#D86BFB"/>
<rect x="872" y="260" width="1" height="29" fill="#D86BFB"/>
<rect x="867" y="264" width="11" height="10" fill="#D86BFB"/>
<rect x="884" y="263" width="1" height="42" fill="#D86BFB"/>
<rect x="879" y="271" width="11" height="11" fill="#D86BFB"/>
<rect x="897" y="271" width="1" height="18" fill="#2A293F"/>
<rect x="892" y="281" width="11" height="4" fill="#2A293F"/>
<rect x="909" y="260" width="1" height="28" fill="#2A293F"/>
<rect x="904" y="264" width="11" height="21" fill="#2A293F"/>
</g></g>
<ellipse cx="612" cy="176" rx="12" ry="40" fill="none" stroke="#0000FF" stroke-width="1"/>
<rect x="597" y="133" width="6" height="6" fill="#0000FF"/>
<rect x="621" y="213" width="6" height="6" fill="#0000FF"/>
</g>
<g>
<rect x="0" y="348" width="917" height="1" fill="#707070"/>
<rect x="0" y="359" width="917" height="1" fill="#707070"/>
<rect x="0" y="369" width="917" height="1" fill="#707070"/>
<polygon points="22.9,349.0 30.5,344.4 43.0,349.0" fill="#FFC000"/>
<polygon points="99.1,349.0 105.5,338.3 108.3,349.0" fill="#FFC000"/>
<polygon points="214.3,349.0 216.5,348.4 225.5,349.0" fill="#FFC000"/>
<polygon points="288.7,349.0 290.5,348.4 291.3,349.0" fill="#FFC000"/>
<polygon points="349.2,349.0 352.5,344.6 364.5,339.0 376.3,349.0" fill="#FFC000"/>
<polygon points="469.2,349.0 476.5,339.0 482.2,349.0" fill="#FFC000"/>
<polygon points="113.8,370.0 117.5,384.2 129.5,380.9 142.5,374.6 151.1,370.0" fill="#00FFFF"/>
<polygon points="310.0,370.0 315.5,380.2 327.5,372.8 330.5,370.0" fill="#00FFFF"/>
<polygon points="499.3,370.0 501.5,372.0 513.5,382.2 525.5,377.9 537.7,370.0" fill="#00FFFF"/>
<polygon points="593.6,370.0 600.5,372.8 612.5,383.5 624.5,373.3 637.5,370.3 649.5,376.3 662.5,376.3 673.6,370.0" fill="#00FFFF"/>
<polygon points="786.8,370.0 798.5,381.4 810.5,381.4 821.3,370.0" fill="#00FFFF"/>
<polygon points="875.5,370.0 884.5,371.5 897.5,370.0" fill="#00FFFF"/>
<polyline points="6.5,362.4 18.5,351.7 30.5,344.4 43.5,349.2 55.5,360.1 67.5,353.0 80.5,349.2 92.5,360.1 105.5,338.3 117.5,384.2 129.5,380.9 142.5,374.6 154.5,368.2 166.5,352.5 179.5,349.7 191.5,350.0 204.5,351.7 216.5,348.4 228.5,349.2 241.5,349.2 253.5,355.5 265.5,359.3 278.5,352.5 290.5,348.4 303.5,358.0 315.5,380.2 327.5,372.8 340.5,360.6 352.5,344.6 364.5,339.0 377.5,350.0 389.5,351.7 402.5,355.5 414.5,355.5 426.5,353.8 439.5,360.6 451.5,365.7 463.5,356.8 476.5,339.0 488.5,360.2 501.5,372.0 513.5,382.2 525.5,377.9 538.5,369.5 550.5,366.4 563.5,366.4 575.5,366.4 587.5,367.5 600.5,372.8 612.5,383.5 624.5,373.3 637.5,370.3 649.5,376.3 662.5,376.3 674.5,369.5 686.5,361.9 699.5,355.5 711.5,358.8 723.5,360.0 736.5,357.3 748.5,359.3 761.5,358.6 773.5,358.6 785.5,368.7 798.5,381.4 810.5,381.4 822.5,368.7 835.5,364.4 847.5,368.2 860.5,366.2 872.5,369.5 884.5,371.5 897.5,370.0 909.5,363.1" fill="none" stroke="#FF6A00" stroke-width="1" stroke-linejoin="round" shape-rendering="crispEdges"/>
</g>
<g clip-path="url(#cv)">
<g shape-rendering="crispEdges">
<rect x="1" y="476" width="11" height="2" fill="#1458C8"/>
<rect x="13" y="475" width="11" height="3" fill="#E61A0C"/>
<rect x="25" y="476" width="11" height="2" fill="#1458C8"/>
<rect x="38" y="475" width="11" height="3" fill="#E61A0C"/>
<rect x="50" y="473" width="11" height="5" fill="#E61A0C"/>
<rect x="62" y="476" width="11" height="2" fill="#1458C8"/>
<rect x="75" y="476" width="11" height="2" fill="#1458C8"/>
<rect x="87" y="473" width="11" height="5" fill="#E61A0C"/>
<rect x="100" y="475" width="11" height="3" fill="#1458C8"/>
<rect x="112" y="464" width="11" height="14" fill="#E61A0C"/>
<rect x="124" y="438" width="11" height="40" fill="#E61A0C"/>
<rect x="137" y="443" width="11" height="35" fill="#1458C8"/>
<rect x="149" y="460" width="11" height="18" fill="#1458C8"/>
<rect x="161" y="441" width="11" height="37" fill="#E61A0C"/>
<rect x="174" y="438" width="11" height="40" fill="#E61A0C"/>
<rect x="186" y="458" width="11" height="20" fill="#1458C8"/>
<rect x="199" y="467" width="11" height="11" fill="#1458C8"/>
<rect x="211" y="448" width="11" height="30" fill="#E61A0C"/>
<rect x="223" y="455" width="11" height="23" fill="#1458C8"/>
<rect x="236" y="459" width="11" height="19" fill="#1458C8"/>
<rect x="248" y="457" width="11" height="21" fill="#E61A0C"/>
<rect x="260" y="466" width="11" height="12" fill="#1458C8"/>
<rect x="273" y="467" width="11" height="11" fill="#1458C8"/>
<rect x="285" y="465" width="11" height="13" fill="#E61A0C"/>
<rect x="298" y="467" width="11" height="11" fill="#1458C8"/>
<rect x="310" y="428" width="11" height="50" fill="#E61A0C"/>
<rect x="322" y="425" width="11" height="53" fill="#E61A0C"/>
<rect x="335" y="445" width="11" height="33" fill="#1458C8"/>
<rect x="347" y="432" width="11" height="46" fill="#E61A0C"/>
<rect x="359" y="413" width="11" height="65" fill="#E61A0C"/>
<rect x="372" y="430" width="11" height="48" fill="#1458C8"/>
<rect x="384" y="450" width="11" height="28" fill="#1458C8"/>
<rect x="397" y="456" width="11" height="22" fill="#1458C8"/>
<rect x="409" y="457" width="11" height="21" fill="#1458C8"/>
<rect x="421" y="455" width="11" height="23" fill="#E61A0C"/>
<rect x="434" y="451" width="11" height="27" fill="#E61A0C"/>
<rect x="446" y="464" width="11" height="14" fill="#1458C8"/>
<rect x="458" y="466" width="11" height="12" fill="#1458C8"/>
<rect x="471" y="455" width="11" height="23" fill="#E61A0C"/>
<rect x="483" y="461" width="11" height="17" fill="#1458C8"/>
<rect x="496" y="460" width="11" height="18" fill="#E61A0C"/>
<rect x="508" y="429" width="11" height="49" fill="#E61A0C"/>
<rect x="520" y="440" width="11" height="38" fill="#1458C8"/>
<rect x="533" y="446" width="11" height="32" fill="#1458C8"/>
<rect x="545" y="463" width="11" height="15" fill="#1458C8"/>
<rect x="558" y="465" width="11" height="13" fill="#1458C8"/>
<rect x="570" y="464" width="11" height="14" fill="#E61A0C"/>
<rect x="582" y="453" width="11" height="25" fill="#E61A0C"/>
<rect x="595" y="459" width="11" height="19" fill="#1458C8"/>
<rect x="607" y="431" width="11" height="47" fill="#E61A0C"/>
<rect x="619" y="444" width="11" height="34" fill="#1458C8"/>
<rect x="632" y="457" width="11" height="21" fill="#1458C8"/>
<rect x="644" y="399" width="11" height="79" fill="#E61A0C"/>
<rect x="657" y="426" width="11" height="52" fill="#1458C8"/>
<rect x="669" y="450" width="11" height="28" fill="#1458C8"/>
<rect x="681" y="430" width="11" height="48" fill="#E61A0C"/>
<rect x="694" y="438" width="11" height="40" fill="#1458C8"/>
<rect x="706" y="447" width="11" height="31" fill="#1458C8"/>
<rect x="718" y="458" width="11" height="20" fill="#1458C8"/>
<rect x="731" y="461" width="11" height="17" fill="#1458C8"/>
<rect x="743" y="464" width="11" height="14" fill="#1458C8"/>
<rect x="756" y="462" width="11" height="16" fill="#E61A0C"/>
<rect x="768" y="467" width="11" height="11" fill="#1458C8"/>
<rect x="780" y="469" width="11" height="9" fill="#1458C8"/>
<rect x="793" y="455" width="11" height="23" fill="#E61A0C"/>
<rect x="805" y="424" width="11" height="54" fill="#E61A0C"/>
<rect x="817" y="433" width="11" height="45" fill="#1458C8"/>
<rect x="830" y="450" width="11" height="28" fill="#1458C8"/>
<rect x="842" y="450" width="11" height="28" fill="#1458C8"/>
<rect x="855" y="453" width="11" height="25" fill="#1458C8"/>
<rect x="867" y="452" width="11" height="26" fill="#E61A0C"/>
<rect x="879" y="432" width="11" height="46" fill="#E61A0C"/>
<rect x="892" y="457" width="11" height="21" fill="#1458C8"/>
<rect x="904" y="463" width="11" height="15" fill="#1458C8"/>
</g>
<g shape-rendering="crispEdges">
<polyline points="6.3,475.5 85.0,475.5 109.0,473.9 118.0,471.8 129.4,465.5 142.1,458.4 154.8,455.8 167.5,449.0 179.7,443.9 191.6,448.5 205.0,453.6 217.0,450.3 229.7,454.0 242.4,457.1 254.0,457.4 265.4,457.4 273.0,459.1 290.8,462.2 303.5,464.2 308.5,462.2 316.1,456.6 327.6,450.3 340.3,445.2 353.0,439.3 364.4,429.4 378.3,430.5 389.7,434.5 402.4,436.3 415.1,441.9 426.5,450.3 439.2,453.6 451.2,457.4 463.4,459.1 476.0,457.5 492.7,459.9 504.1,459.1 513.0,454.1 525.7,449.0 538.4,447.7 551.0,447.7 563.8,450.3 575.2,455.3 586.6,458.6 599.3,456.6 612.0,454.8 624.7,450.3 637.4,449.5 648.8,440.1 661.5,432.5 674.2,435.0 686.9,431.7 699.5,428.2 711.0,436.3 723.7,443.9 730.8,445.4 742.9,450.3 755.0,456.2 768.4,461.0 784.6,464.5 798.0,462.9 810.1,453.5 822.2,447.6 835.7,446.2 847.8,443.5 859.9,442.2 872.0,448.4 884.1,447.0 894.9,448.9 908.3,451.6" fill="none" stroke="#E010C8" stroke-width="1" stroke-linejoin="round"/>
<polyline points="6.3,476.6 100.0,476.6 109.0,474.9 121.8,473.1 132.0,472.3 140.9,469.8 154.8,469.3 168.8,468.0 179.7,465.7 192.9,465.7 205.6,465.5 218.3,464.2 231.0,463.7 243.7,462.4 265.4,461.2 285.7,460.4 303.5,459.1 316.1,457.1 328.8,454.8 341.5,452.8 353.0,450.3 364.4,448.5 382.1,448.5 392.3,449.5 402.4,448.5 427.8,450.3 443.0,450.3 478.6,450.3 492.7,451.5 505.4,450.3 518.0,447.7 546.0,445.9 556.1,446.5 568.8,449.5 581.5,451.0 599.3,452.3 624.7,453.6 637.4,454.1 647.5,451.5 660.2,449.0 683.0,448.5 698.3,447.0 730.0,445.7 746.9,447.0 768.4,448.9 787.3,450.3 800.7,450.3 810.1,448.4 822.2,446.8 849.1,447.6 881.4,448.1 908.3,451.6" fill="none" stroke="#F0A000" stroke-width="1" stroke-linejoin="round"/>
<polyline points="6.3,476.6 104.0,476.6 112.0,474.6 132.0,473.6 154.8,472.3 177.7,471.3 203.0,471.0 228.4,470.6 250.0,470.6 308.5,469.8 334.0,468.0 359.3,466.9 382.1,465.0 430.4,464.7 445.6,463.5 468.4,462.9 490.0,462.2 530.8,460.4 581.5,459.1 637.4,458.4 657.7,455.3 683.0,454.6 730.0,453.3 760.4,452.4 803.4,451.6 827.6,449.7 881.4,448.9 908.3,450.8" fill="none" stroke="#0C9040" stroke-width="1.2" stroke-linejoin="round"/>
<polyline points="6.3,474.5 110.0,474.5 200.0,472.6 300.0,471.3 350.0,470.3 375.0,469.5 500.0,469.2 600.0,466.5 730.0,463.7 908.3,461.6" fill="none" stroke="#707070" stroke-width="1" stroke-linejoin="round"/>
</g>
<ellipse cx="617.8" cy="443.5" rx="17.8" ry="35.5" fill="#33CCCC"/>
<g clip-path="url(#e2)"><g shape-rendering="crispEdges">
<rect x="582" y="453" width="11" height="25" fill="#2A293F"/>
<rect x="595" y="459" width="11" height="19" fill="#D86BFB"/>
<rect x="607" y="431" width="11" height="47" fill="#2A293F"/>
<rect x="619" y="444" width="11" height="34" fill="#D86BFB"/>
<rect x="632" y="457" width="11" height="21" fill="#D86BFB"/>
<rect x="644" y="399" width="11" height="79" fill="#2A293F"/>
</g>
<g shape-rendering="crispEdges">
<polyline points="6.3,475.5 85.0,475.5 109.0,473.9 118.0,471.8 129.4,465.5 142.1,458.4 154.8,455.8 167.5,449.0 179.7,443.9 191.6,448.5 205.0,453.6 217.0,450.3 229.7,454.0 242.4,457.1 254.0,457.4 265.4,457.4 273.0,459.1 290.8,462.2 303.5,464.2 308.5,462.2 316.1,456.6 327.6,450.3 340.3,445.2 353.0,439.3 364.4,429.4 378.3,430.5 389.7,434.5 402.4,436.3 415.1,441.9 426.5,450.3 439.2,453.6 451.2,457.4 463.4,459.1 476.0,457.5 492.7,459.9 504.1,459.1 513.0,454.1 525.7,449.0 538.4,447.7 551.0,447.7 563.8,450.3 575.2,455.3 586.6,458.6 599.3,456.6 612.0,454.8 624.7,450.3 637.4,449.5 648.8,440.1 661.5,432.5 674.2,435.0 686.9,431.7 699.5,428.2 711.0,436.3 723.7,443.9 730.8,445.4 742.9,450.3 755.0,456.2 768.4,461.0 784.6,464.5 798.0,462.9 810.1,453.5 822.2,447.6 835.7,446.2 847.8,443.5 859.9,442.2 872.0,448.4 884.1,447.0 894.9,448.9 908.3,451.6" fill="none" stroke="#2C23FB" stroke-width="1" stroke-linejoin="round"/>
<polyline points="6.3,476.6 100.0,476.6 109.0,474.9 121.8,473.1 132.0,472.3 140.9,469.8 154.8,469.3 168.8,468.0 179.7,465.7 192.9,465.7 205.6,465.5 218.3,464.2 231.0,463.7 243.7,462.4 265.4,461.2 285.7,460.4 303.5,459.1 316.1,457.1 328.8,454.8 341.5,452.8 353.0,450.3 364.4,448.5 382.1,448.5 392.3,449.5 402.4,448.5 427.8,450.3 443.0,450.3 478.6,450.3 492.7,451.5 505.4,450.3 518.0,447.7 546.0,445.9 556.1,446.5 568.8,449.5 581.5,451.0 599.3,452.3 624.7,453.6 637.4,454.1 647.5,451.5 660.2,449.0 683.0,448.5 698.3,447.0 730.0,445.7 746.9,447.0 768.4,448.9 787.3,450.3 800.7,450.3 810.1,448.4 822.2,446.8 849.1,447.6 881.4,448.1 908.3,451.6" fill="none" stroke="#3C9333" stroke-width="1" stroke-linejoin="round"/>
<polyline points="6.3,476.6 104.0,476.6 112.0,474.6 132.0,473.6 154.8,472.3 177.7,471.3 203.0,471.0 228.4,470.6 250.0,470.6 308.5,469.8 334.0,468.0 359.3,466.9 382.1,465.0 430.4,464.7 445.6,463.5 468.4,462.9 490.0,462.2 530.8,460.4 581.5,459.1 637.4,458.4 657.7,455.3 683.0,454.6 730.0,453.3 760.4,452.4 803.4,451.6 827.6,449.7 881.4,448.9 908.3,450.8" fill="none" stroke="#C0A373" stroke-width="1.2" stroke-linejoin="round"/>
<polyline points="6.3,474.5 110.0,474.5 200.0,472.6 300.0,471.3 350.0,470.3 375.0,469.5 500.0,469.2 600.0,466.5 730.0,463.7 908.3,461.6" fill="none" stroke="#BC4343" stroke-width="1" stroke-linejoin="round"/>
</g>
</g>
<ellipse cx="617.8" cy="443.5" rx="17.8" ry="35.5" fill="none" stroke="#0000FF" stroke-width="1"/>
</g>
<g shape-rendering="crispEdges" fill="#585858">
<rect x="918" y="31" width="2" height="1"/>
<rect x="918" y="37" width="2" height="1"/>
<rect x="918" y="43" width="6" height="1"/>
<rect x="918" y="55" width="2" height="1"/>
<rect x="918" y="60" width="2" height="1"/>
<rect x="918" y="66" width="2" height="1"/>
<rect x="918" y="72" width="2" height="1"/>
<rect x="918" y="78" width="6" height="1"/>
<rect x="918" y="90" width="2" height="1"/>
<rect x="918" y="96" width="2" height="1"/>
<rect x="918" y="101" width="2" height="1"/>
<rect x="918" y="107" width="2" height="1"/>
<rect x="918" y="113" width="6" height="1"/>
<rect x="918" y="125" width="2" height="1"/>
<rect x="918" y="130" width="2" height="1"/>
<rect x="918" y="136" width="2" height="1"/>
<rect x="918" y="142" width="2" height="1"/>
<rect x="918" y="148" width="6" height="1"/>
<rect x="918" y="160" width="2" height="1"/>
<rect x="918" y="166" width="2" height="1"/>
<rect x="918" y="171" width="2" height="1"/>
<rect x="918" y="177" width="2" height="1"/>
<rect x="918" y="183" width="6" height="1"/>
<rect x="918" y="195" width="2" height="1"/>
<rect x="918" y="200" width="2" height="1"/>
<rect x="918" y="206" width="2" height="1"/>
<rect x="918" y="212" width="2" height="1"/>
<rect x="918" y="218" width="6" height="1"/>
<rect x="918" y="230" width="2" height="1"/>
<rect x="918" y="236" width="2" height="1"/>
<rect x="918" y="241" width="2" height="1"/>
<rect x="918" y="247" width="2" height="1"/>
<rect x="918" y="253" width="6" height="1"/>
<rect x="918" y="265" width="2" height="1"/>
<rect x="918" y="270" width="2" height="1"/>
<rect x="918" y="276" width="2" height="1"/>
<rect x="918" y="282" width="2" height="1"/>
<rect x="918" y="288" width="6" height="1"/>
<rect x="918" y="300" width="2" height="1"/>
<rect x="918" y="306" width="2" height="1"/>
<rect x="918" y="311" width="2" height="1"/>
<rect x="918" y="317" width="2" height="1"/>
<rect x="918" y="323" width="6" height="1"/>
<rect x="918" y="323" width="6" height="1"/>
<rect x="918" y="339" width="2" height="1"/>
<rect x="918" y="344" width="2" height="1"/>
<rect x="918" y="349" width="2" height="1"/>
<rect x="918" y="354" width="2" height="1"/>
<rect x="918" y="365" width="2" height="1"/>
<rect x="918" y="370" width="2" height="1"/>
<rect x="918" y="375" width="2" height="1"/>
<rect x="918" y="380" width="2" height="1"/>
<rect x="918" y="328" width="2" height="1"/>
<rect x="918" y="333" width="6" height="1"/>
<rect x="918" y="359" width="6" height="1"/>
<rect x="918" y="385" width="6" height="1"/>
<rect x="918" y="399" width="2" height="1"/>
<rect x="918" y="421" width="2" height="1"/>
<rect x="918" y="443" width="2" height="1"/>
<rect x="918" y="466" width="2" height="1"/>
<rect x="918" y="410" width="6" height="1"/>
<rect x="918" y="432" width="6" height="1"/>
<rect x="918" y="454" width="6" height="1"/>
<rect x="918" y="477" width="6" height="1"/>
</g>
<text x="925.5" y="47.0" fill="#404040" font-size="14.2" font-family="Liberation Sans, NanumGothic, Noto Sans CJK KR, sans-serif" textLength="29.5" lengthAdjust="spacingAndGlyphs">27550</text>
<text x="925.5" y="82.0" fill="#404040" font-size="14.2" font-family="Liberation Sans, NanumGothic, Noto Sans CJK KR, sans-serif" textLength="29.5" lengthAdjust="spacingAndGlyphs">27525</text>
<text x="925.5" y="117.0" fill="#404040" font-size="14.2" font-family="Liberation Sans, NanumGothic, Noto Sans CJK KR, sans-serif" textLength="29.5" lengthAdjust="spacingAndGlyphs">27500</text>
<text x="925.5" y="152.0" fill="#404040" font-size="14.2" font-family="Liberation Sans, NanumGothic, Noto Sans CJK KR, sans-serif" textLength="29.5" lengthAdjust="spacingAndGlyphs">27475</text>
<text x="925.5" y="187.0" fill="#404040" font-size="14.2" font-family="Liberation Sans, NanumGothic, Noto Sans CJK KR, sans-serif" textLength="29.5" lengthAdjust="spacingAndGlyphs">27450</text>
<text x="925.5" y="222.0" fill="#404040" font-size="14.2" font-family="Liberation Sans, NanumGothic, Noto Sans CJK KR, sans-serif" textLength="29.5" lengthAdjust="spacingAndGlyphs">27425</text>
<text x="925.5" y="257.0" fill="#404040" font-size="14.2" font-family="Liberation Sans, NanumGothic, Noto Sans CJK KR, sans-serif" textLength="29.5" lengthAdjust="spacingAndGlyphs">27400</text>
<text x="925.5" y="292.0" fill="#404040" font-size="14.2" font-family="Liberation Sans, NanumGothic, Noto Sans CJK KR, sans-serif" textLength="29.5" lengthAdjust="spacingAndGlyphs">27375</text>
<rect x="922" y="257" width="58" height="13" fill="#E61A0C"/>
<text x="925.5" y="268.4" fill="#ffffff" font-size="14.2" font-family="Liberation Sans, NanumGothic, Noto Sans CJK KR, sans-serif" textLength="29.5" lengthAdjust="spacingAndGlyphs">27392</text>
<text x="925.5" y="280.5" fill="#E61A0C" font-size="14.2" font-family="Liberation Sans, NanumGothic, Noto Sans CJK KR, sans-serif" textLength="31.0" lengthAdjust="spacingAndGlyphs">0,04%</text>
<text x="919.0" y="13.9" fill="#E61A0C" font-size="14.2" font-family="Liberation Sans, NanumGothic, Noto Sans CJK KR, sans-serif" textLength="40.0" lengthAdjust="spacingAndGlyphs">LC:0,11</text>
<text x="919.0" y="26.0" fill="#1458C8" font-size="14.2" font-family="Liberation Sans, NanumGothic, Noto Sans CJK KR, sans-serif" textLength="48.0" lengthAdjust="spacingAndGlyphs">HC:-0,60</text>
<text x="925.6" y="363.0" fill="#404040" font-size="14.2" font-family="Liberation Sans, NanumGothic, Noto Sans CJK KR, sans-serif" textLength="21.6" lengthAdjust="spacingAndGlyphs">0,00</text>
<text x="925.7" y="414.2" fill="#404040" font-size="14.2" font-family="Liberation Sans, NanumGothic, Noto Sans CJK KR, sans-serif" textLength="27.7" lengthAdjust="spacingAndGlyphs">1,500</text>
<text x="925.7" y="436.4" fill="#404040" font-size="14.2" font-family="Liberation Sans, NanumGothic, Noto Sans CJK KR, sans-serif" textLength="27.7" lengthAdjust="spacingAndGlyphs">1,000</text>
<text x="925.7" y="458.2" fill="#404040" font-size="14.2" font-family="Liberation Sans, NanumGothic, Noto Sans CJK KR, sans-serif" textLength="33.4" lengthAdjust="spacingAndGlyphs">500,00</text>
<rect x="972" y="330" width="8" height="7" fill="#404040"/>
<path d="M974 332 l4 3 M978 332 l-4 3" stroke="#fff" stroke-width="1.2"/>
<rect x="972" y="390" width="8" height="7" fill="#404040"/>
<path d="M974 392 l4 3 M978 392 l-4 3" stroke="#fff" stroke-width="1.2"/>
<rect x="3.5" y="7.5" width="4" height="5" fill="#c0c0c0" stroke="#808080" stroke-width="1" shape-rendering="crispEdges"/>
<rect x="10.5" y="3.5" width="140" height="14" fill="#e9e9e9" stroke="#c8c8c8" stroke-width="1"/>
<text x="14.6" y="15.0" fill="#404040" font-size="14.2" font-family="Liberation Sans, NanumGothic, Noto Sans CJK KR, sans-serif" textLength="133.5" lengthAdjust="spacingAndGlyphs">Hang Seng Index(17,08)</text>
<rect x="154.5" y="7.5" width="4" height="5" fill="#c0c0c0" stroke="#808080" stroke-width="1" shape-rendering="crispEdges"/>
<text x="166.0" y="15.0" fill="#000" font-size="13" font-family="Liberation Sans, NanumGothic, Noto Sans CJK KR, sans-serif" textLength="24.0" lengthAdjust="spacingAndGlyphs">종가</text>
<text x="193.4" y="15.0" fill="#000" font-size="13" font-family="Liberation Sans, NanumGothic, Noto Sans CJK KR, sans-serif" textLength="24.0" lengthAdjust="spacingAndGlyphs">단순</text>
<text x="222.3" y="15.0" fill="#000" font-size="14.2" font-family="Liberation Sans, NanumGothic, Noto Sans CJK KR, sans-serif" textLength="11.5" lengthAdjust="spacingAndGlyphs">15</text>
<text x="241.7" y="15.0" fill="#0000FF" font-size="14.2" font-family="Liberation Sans, NanumGothic, Noto Sans CJK KR, sans-serif" textLength="11.6" lengthAdjust="spacingAndGlyphs">75</text>
<text x="262.0" y="15.0" fill="#800000" font-size="14.2" font-family="Liberation Sans, NanumGothic, Noto Sans CJK KR, sans-serif" textLength="17.2" lengthAdjust="spacingAndGlyphs">150</text>
<text x="288.0" y="15.0" fill="#FF00FF" font-size="14.2" font-family="Liberation Sans, NanumGothic, Noto Sans CJK KR, sans-serif" textLength="17.2" lengthAdjust="spacingAndGlyphs">300</text>
<text x="314.6" y="15.0" fill="#FF0000" font-size="14.2" font-family="Liberation Sans, NanumGothic, Noto Sans CJK KR, sans-serif" textLength="10.8" lengthAdjust="spacingAndGlyphs">10</text>
<text x="334.0" y="15.0" fill="#00E800" font-size="13" font-family="Liberation Sans, NanumGothic, Noto Sans CJK KR, sans-serif" textLength="34.0" lengthAdjust="spacingAndGlyphs">상한선</text>
<text x="377.0" y="15.0" fill="#00E800" font-size="13" font-family="Liberation Sans, NanumGothic, Noto Sans CJK KR, sans-serif" textLength="34.5" lengthAdjust="spacingAndGlyphs">하한선</text>
<rect x="418.5" y="7.5" width="4" height="5" fill="#c0c0c0" stroke="#808080" stroke-width="1" shape-rendering="crispEdges"/>
<text x="429.1" y="15.0" fill="#0000FF" font-size="13" font-family="Liberation Sans, NanumGothic, Noto Sans CJK KR, sans-serif" textLength="23.6" lengthAdjust="spacingAndGlyphs">비가</text>
<g shape-rendering="crispEdges"><rect x="3" y="21" width="14" height="14" fill="#000"/><rect x="4" y="22" width="12" height="12" fill="#fff"/><rect x="5" y="23" width="10" height="10" fill="#808080"/>
<rect x="6" y="24" width="2" height="1" fill="#fff"/><rect x="6" y="26" width="2" height="4" fill="#e0e0e0"/><rect x="6" y="31" width="2" height="1" fill="#fff"/>
<rect x="9" y="24" width="2" height="1" fill="#fff"/><rect x="9" y="26" width="2" height="4" fill="#fff"/><rect x="9" y="31" width="2" height="1" fill="#fff"/>
<rect x="12" y="24" width="2" height="1" fill="#fff"/><rect x="12" y="26" width="2" height="4" fill="#fff"/><rect x="12" y="31" width="2" height="1" fill="#fff"/>
</g>
<text x="239.5" y="40.0" fill="#FF0000" font-size="13.6" font-family="Liberation Sans, NanumGothic, Noto Sans CJK KR, sans-serif" textLength="99.5" lengthAdjust="spacingAndGlyphs">최고 27558 (10:34)</text>
<path d="M344 36.5 H358" stroke="#FF0000" stroke-width="1"/><path d="M353 32 L359.5 36.5 L353 41.5 Z" fill="#FF0000"/>
<text x="759.6" y="306.4" fill="#0000FF" font-size="13.6" font-family="Liberation Sans, NanumGothic, Noto Sans CJK KR, sans-serif" textLength="99.5" lengthAdjust="spacingAndGlyphs">최저 27363 (11:16)</text>
<path d="M864 303.5 H878" stroke="#0000FF" stroke-width="1"/><path d="M873 299 L879.5 303.5 L873 308.5 Z" fill="#0000FF"/>
<rect x="3.5" y="332.5" width="4" height="5" fill="#c0c0c0" stroke="#808080" stroke-width="1" shape-rendering="crispEdges"/>
<text x="14.8" y="340.0" fill="#FF6000" font-size="14.2" font-family="Liberation Sans, NanumGothic, Noto Sans CJK KR, sans-serif" textLength="31.0" lengthAdjust="spacingAndGlyphs">CCI 9</text>
<rect x="3.5" y="392.5" width="4" height="5" fill="#c0c0c0" stroke="#808080" stroke-width="1" shape-rendering="crispEdges"/>
<text x="14.2" y="400.0" fill="#209898" font-size="13" font-family="Liberation Sans, NanumGothic, Noto Sans CJK KR, sans-serif" textLength="36.0" lengthAdjust="spacingAndGlyphs">거래량</text>
<text x="58.7" y="400.0" fill="#E010C8" font-size="13.6" font-family="Liberation Sans, NanumGothic, Noto Sans CJK KR, sans-serif" textLength="33.7" lengthAdjust="spacingAndGlyphs">단순 5</text>
<text x="101.0" y="400.0" fill="#F0A000" font-size="14.2" font-family="Liberation Sans, NanumGothic, Noto Sans CJK KR, sans-serif" textLength="11.3" lengthAdjust="spacingAndGlyphs">20</text>
<text x="120.9" y="400.0" fill="#0C9040" font-size="14.2" font-family="Liberation Sans, NanumGothic, Noto Sans CJK KR, sans-serif" textLength="11.3" lengthAdjust="spacingAndGlyphs">60</text>
<text x="142.0" y="400.0" fill="#505050" font-size="14.2" font-family="Liberation Sans, NanumGothic, Noto Sans CJK KR, sans-serif" textLength="16.5" lengthAdjust="spacingAndGlyphs">120</text>
<text x="4.6" y="413.3" fill="#303030" font-size="13.6" font-family="Liberation Sans, NanumGothic, Noto Sans CJK KR, sans-serif" textLength="88.7" lengthAdjust="spacingAndGlyphs">306계약(71,00%)</text>
<g shape-rendering="crispEdges" fill="#505050">
<rect x="49" y="480" width="1" height="16"/>
<rect x="111" y="480" width="1" height="16"/>
<rect x="186" y="480" width="1" height="16"/>
<rect x="309" y="480" width="1" height="16"/>
<rect x="433" y="480" width="1" height="16"/>
<rect x="557" y="480" width="1" height="16"/>
<rect x="680" y="480" width="1" height="16"/>
<rect x="805" y="480" width="1" height="16"/>
</g>
<text x="1.5" y="492.3" fill="#303030" font-size="14.2" font-family="Liberation Sans, NanumGothic, Noto Sans CJK KR, sans-serif" textLength="34.3" lengthAdjust="spacingAndGlyphs" font-weight="bold">08/03</text>
<text x="50.8" y="492.2" fill="#404040" font-size="14.2" font-family="Liberation Sans, NanumGothic, Noto Sans CJK KR, sans-serif" textLength="26.8" lengthAdjust="spacingAndGlyphs">00:40</text>
<text x="113.0" y="492.2" fill="#404040" font-size="14.2" font-family="Liberation Sans, NanumGothic, Noto Sans CJK KR, sans-serif" textLength="26.8" lengthAdjust="spacingAndGlyphs">10:10</text>
<text x="187.8" y="492.2" fill="#404040" font-size="14.2" font-family="Liberation Sans, NanumGothic, Noto Sans CJK KR, sans-serif" textLength="26.8" lengthAdjust="spacingAndGlyphs">10:20</text>
<text x="311.0" y="492.2" fill="#404040" font-size="14.2" font-family="Liberation Sans, NanumGothic, Noto Sans CJK KR, sans-serif" textLength="26.8" lengthAdjust="spacingAndGlyphs">10:30</text>
<text x="435.4" y="492.2" fill="#404040" font-size="14.2" font-family="Liberation Sans, NanumGothic, Noto Sans CJK KR, sans-serif" textLength="26.8" lengthAdjust="spacingAndGlyphs">10:40</text>
<text x="559.2" y="492.2" fill="#404040" font-size="14.2" font-family="Liberation Sans, NanumGothic, Noto Sans CJK KR, sans-serif" textLength="26.8" lengthAdjust="spacingAndGlyphs">10:50</text>
<text x="682.3" y="492.2" fill="#404040" font-size="14.2" font-family="Liberation Sans, NanumGothic, Noto Sans CJK KR, sans-serif" textLength="26.8" lengthAdjust="spacingAndGlyphs">11:00</text>
<text x="807.0" y="492.2" fill="#404040" font-size="14.2" font-family="Liberation Sans, NanumGothic, Noto Sans CJK KR, sans-serif" textLength="26.8" lengthAdjust="spacingAndGlyphs">11:10</text>
<text x="926.4" y="492.2" fill="#404040" font-size="14.2" font-family="Liberation Sans, NanumGothic, Noto Sans CJK KR, sans-serif" textLength="42.6" lengthAdjust="spacingAndGlyphs">11:18:00</text>
</svg>
</body></html>
